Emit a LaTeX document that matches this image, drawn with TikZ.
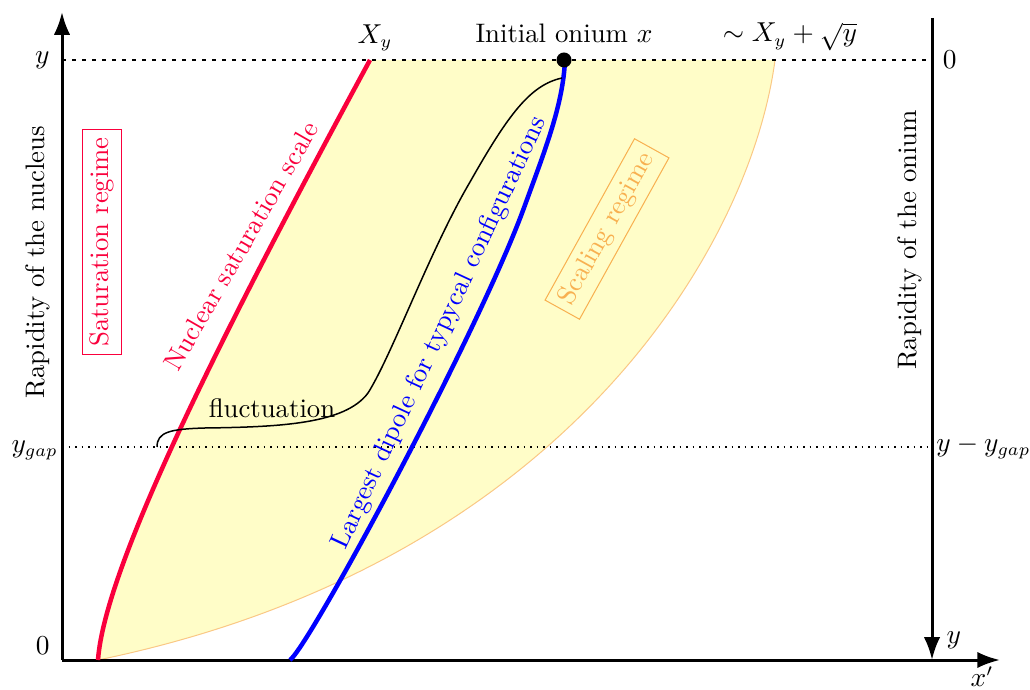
\documentclass[tikz,border=0pt]{standalone}
\usepackage{amsmath}
\usepackage{tikz}
\usetikzlibrary{arrows.meta,positioning,calc}
\usepackage{xcolor}
\definecolor{nucred}{RGB}{250,0,60}
\definecolor{scalorange}{RGB}{248,176,80}
\definecolor{scalfill}{RGB}{255,253,200}
\newcommand{\labfont}{\fontsize{10.7pt}{13pt}\selectfont}
\tikzset{
  axis/.style={-{Latex[length=3.2mm,width=2.3mm]}, line width=1.2pt},
  level/.style={dotted, line width=0.6pt},
  toplevel/.style={dash pattern=on 1.5pt off 2.5pt, line width=0.6pt},
  satcurve/.style={draw=nucred, line width=1.8pt},
  dipcurve/.style={draw=blue, line width=1.8pt},
  flucurve/.style={line width=0.6pt},
  regime/.style={draw, line width=0.4pt, inner sep=3pt, font=\labfont},
  lbl/.style={font=\labfont}
}
\begin{document}
\begin{tikzpicture}[x=0.4pt, y=-0.4pt, node distance=2mm]
\useasboundingbox (0,0) rectangle (1030,690);
% scaling region
\fill[scalfill] (98,660) .. controls (105,560) and (240,300) .. (370,60)
  -- (775,60) .. controls (750,250) and (560,565) .. (98,660) -- cycle;
\draw[scalorange!70, line width=0.4pt] (775,60) .. controls (750,250) and (560,565) .. (98,660);
% axes
\coordinate (O) at (62,660);
\coordinate (ytop) at (62,12);
\coordinate (xend) at (1000,660);
\coordinate (rtop) at (932,18);
\coordinate (rbot) at (932,660);
\coordinate (yl) at (62,60);
\coordinate (yr) at (932,60);
\coordinate (gl) at (62,447);
\coordinate (gr) at (932,447);
\draw[toplevel] (yl) -- (yr);
\draw[level] (gl) -- (gr);
\draw[axis] (O) -- (ytop);
\draw[axis] (O) -- (xend);
\draw[axis] (rtop) -- (rbot);
% labels of the axes
\node[lbl, left=0.5mm of yl] (ylab) {$y$};
\node[lbl, left=0mm of gl, yshift=-0.5mm, inner sep=1.5pt] (glab) {$y_{gap}$};
\node[lbl, left=0.5mm of O, yshift=2mm] (olab) {$0$};
\node[lbl, right=0.3mm of yr] (rzero) {$0$};
\node[lbl, right=0mm of gr, inner sep=1.5pt] (rgap) {$y-y_{gap}$};
\node[lbl, above right=0.3mm and 0.8mm of rbot] (rylab) {$y$};
\node[lbl, anchor=north, inner sep=1pt] (xlab) at (982,664) {$x'$};
\node[lbl, rotate=90] (nuc) at (38,262) {Rapidity of the nucleus};
\node[lbl, rotate=90] (oni) at (910,240) {Rapidity of the onium};
% curves
\draw[satcurve] (98,660) .. controls (105,560) and (240,300) .. (370,60);
\draw[dipcurve] (290,660) .. controls (310,645) and (480,330) .. (525,205)
  .. controls (545,150) and (563,105) .. (565,60);
\draw[flucurve] (157,447) .. controls (157,432) and (170,429) .. (205,428)
  .. controls (280,427) and (345,424) .. (368,393)
  .. controls (392,355) and (430,250) .. (470,182)
  .. controls (508,115) and (530,85) .. (562,78);
\node[circle, fill=black, inner sep=0pt, minimum size=6pt] (onium) at (564,60) {};
% texts
\node[lbl, above=0mm of onium] (onlab) {Initial onium $x$};
\node[lbl, above=0mm] (xylab) at (375,60) {$X_y$};
\node[lbl, above=0mm] (sqlab) at (790,60) {$\sim X_y+\sqrt{y}$};
\node[lbl] (flab) at (272,408) {fluctuation};
\node[lbl, text=nucred, rotate=60] (satlab) at (241,246) {Nuclear saturation scale};
\node[lbl, text=blue, rotate=65] (diplab) at (440,333) {Largest dipole for typycal configurations};
\node[regime, draw=scalorange, text=scalorange, rotate=61] (scal) at (607,229) {Scaling regime};
\node[regime, draw=nucred, text=nucred, rotate=90] (sat) at (102,242) {Saturation regime};
\end{tikzpicture}
\end{document}
